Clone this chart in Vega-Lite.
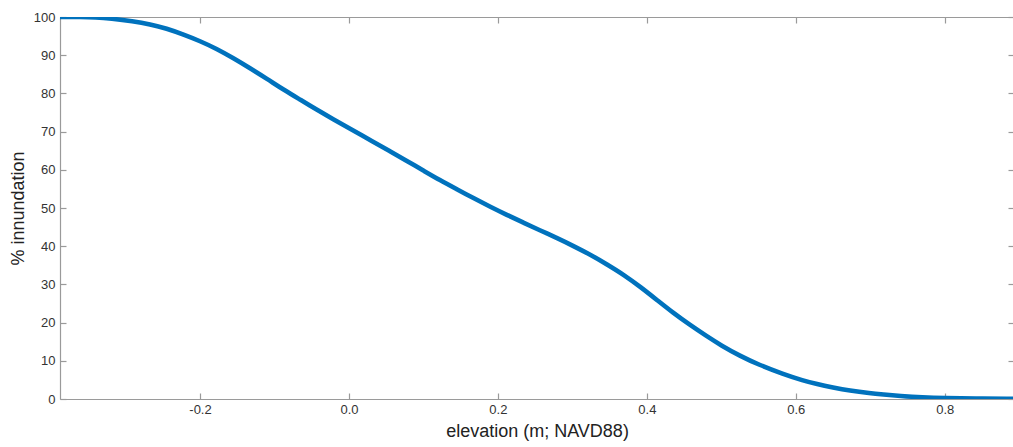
{
  "$schema": "https://vega.github.io/schema/vega-lite/v6.json",
  "width": 954,
  "height": 382,
  "autosize": {"type": "none"},
  "padding": {"left": 60, "top": 17, "right": 0, "bottom": 48},
  "background": "white",
  "config": {
    "view": {"stroke": null},
    "font": "Liberation Sans",
    "axis": {
      "grid": false,
      "domainColor": "#9a9a9a",
      "domainWidth": 1.2,
      "tickColor": "#9a9a9a",
      "tickWidth": 1.2,
      "tickSize": -6,
      "labelColor": "#333333",
      "labelFont": "Liberation Sans",
      "labelFontSize": 13,
      "titleFont": "Liberation Sans",
      "titleFontSize": 18,
      "titleFontWeight": "normal",
      "titleColor": "#222222"
    }
  },
  "data": {
    "values": [
      {"elev": -0.388, "pct": 100},
      {"elev": -0.36, "pct": 100},
      {"elev": -0.34, "pct": 99.9},
      {"elev": -0.32, "pct": 99.6},
      {"elev": -0.29, "pct": 98.9},
      {"elev": -0.267, "pct": 98.1},
      {"elev": -0.245, "pct": 97.0},
      {"elev": -0.222, "pct": 95.4},
      {"elev": -0.2, "pct": 93.7},
      {"elev": -0.178, "pct": 91.7},
      {"elev": -0.155, "pct": 89.2},
      {"elev": -0.133, "pct": 86.6},
      {"elev": -0.11, "pct": 83.8},
      {"elev": -0.088, "pct": 81.0},
      {"elev": -0.065, "pct": 78.3},
      {"elev": -0.043, "pct": 75.7},
      {"elev": -0.02, "pct": 73.1},
      {"elev": 0.0, "pct": 70.9},
      {"elev": 0.033, "pct": 67.3},
      {"elev": 0.055, "pct": 64.9},
      {"elev": 0.077, "pct": 62.4},
      {"elev": 0.1, "pct": 59.8},
      {"elev": 0.122, "pct": 57.3},
      {"elev": 0.145, "pct": 54.9},
      {"elev": 0.167, "pct": 52.6},
      {"elev": 0.19, "pct": 50.3},
      {"elev": 0.212, "pct": 48.2},
      {"elev": 0.234, "pct": 46.2},
      {"elev": 0.256, "pct": 44.2},
      {"elev": 0.28, "pct": 42.1},
      {"elev": 0.301, "pct": 40.1},
      {"elev": 0.325, "pct": 37.7},
      {"elev": 0.346, "pct": 35.3},
      {"elev": 0.37, "pct": 32.4},
      {"elev": 0.391, "pct": 29.4},
      {"elev": 0.415, "pct": 25.7},
      {"elev": 0.435, "pct": 22.6},
      {"elev": 0.457, "pct": 19.5},
      {"elev": 0.48, "pct": 16.5},
      {"elev": 0.5, "pct": 14.0},
      {"elev": 0.525, "pct": 11.3},
      {"elev": 0.55, "pct": 9.0},
      {"elev": 0.583, "pct": 6.5},
      {"elev": 0.61, "pct": 4.8},
      {"elev": 0.628, "pct": 3.9},
      {"elev": 0.65, "pct": 3.0},
      {"elev": 0.672, "pct": 2.2},
      {"elev": 0.7, "pct": 1.5},
      {"elev": 0.717, "pct": 1.2},
      {"elev": 0.74, "pct": 0.8},
      {"elev": 0.77, "pct": 0.4},
      {"elev": 0.8, "pct": 0.2},
      {"elev": 0.84, "pct": 0.1},
      {"elev": 0.892, "pct": 0.05}
    ]
  },
  "layer": [
    {
      "mark": {"type": "line", "color": "#0072BD", "strokeWidth": 4.6, "interpolate": "basis", "clip": true},
      "encoding": {
        "x": {
          "field": "elev", "type": "quantitative",
          "scale": {"domain": [-0.388, 0.893], "nice": false, "zero": false},
          "axis": {"title": "elevation (m; NAVD88)", "values": [-0.2, 0, 0.2, 0.4, 0.6, 0.8], "labelExpr": "replace(datum.label, '\u2212', '-')", "labelPadding": 10, "titlePadding": 6, "labelFlush": false}
        },
        "y": {
          "field": "pct", "type": "quantitative",
          "scale": {"domain": [0, 100], "nice": false},
          "axis": {"title": "% innundation", "values": [0, 10, 20, 30, 40, 50, 60, 70, 80, 90, 100], "labelPadding": 11, "titlePadding": 6, "labelFlush": false}
        }
      }
    },
    {
      "mark": {"type": "line", "opacity": 0},
      "encoding": {
        "x": {
          "field": "elev", "type": "quantitative",
          "scale": {"domain": [-0.388, 0.893], "nice": false, "zero": false},
          "axis": {"orient": "top", "title": null, "labels": false, "values": [-0.2, 0, 0.2, 0.4, 0.6, 0.8]}
        },
        "y": {
          "field": "pct", "type": "quantitative",
          "scale": {"domain": [0, 100], "nice": false},
          "axis": {"orient": "right", "title": null, "labels": false, "values": [0, 10, 20, 30, 40, 50, 60, 70, 80, 90, 100]}
        }
      }
    }
  ],
  "resolve": {"axis": {"x": "independent", "y": "independent"}}
}
